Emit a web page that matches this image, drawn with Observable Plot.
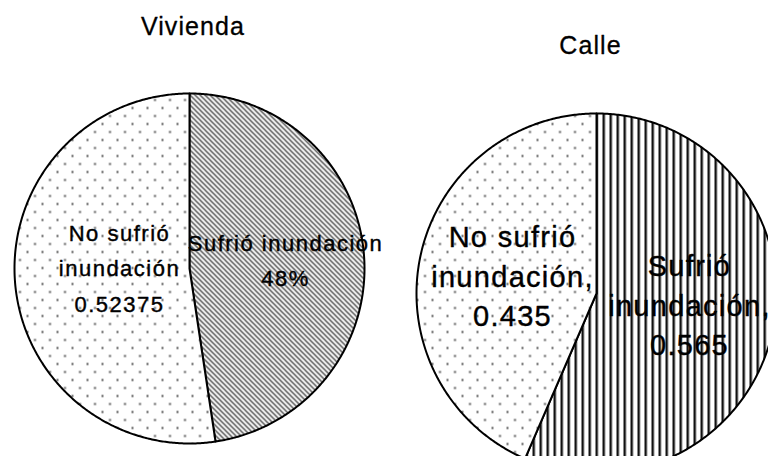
<!DOCTYPE html>
<html>
<head>
<meta charset="utf-8">
<script src="https://cdn.jsdelivr.net/npm/d3@7"></script>
<script src="https://cdn.jsdelivr.net/npm/@observablehq/plot@0.6"></script>
<style>
  html, body { margin: 0; padding: 0; background: #fff; }
  svg { display: block; }
</style>
</head>
<body>
<div id="chart"></div>
<script>
// ---- Data ----
const categories = ["Sufrió inundación", "No sufrió inundación"];
const pieTitles = ["Vivienda", "Calle"];
const viviendaValues = [0.47625, 0.52375];
const calleValues = [0.565, 0.435];
const viviendaLabels = ["Sufrió inundación\n48%", "No sufrió\ninundación\n0.52375"];
const calleLabels = ["Sufrió\ninundación,\n0.565", "No sufrió\ninundación,\n0.435"];

// ---- Layout (pixels) ----
const W = 768, H = 456;
const pies = [
  {title: pieTitles[0], values: viviendaValues, labels: viviendaLabels,
   cx: 189, cy: 268, r: 175,
   patterns: ["url(#diag)", "url(#dots)"],
   titlePos: [192.5, 26],
   labelSize: 22, lineHeight: 1.62, spacing: "1.5px",
   labelPos: [[285, 256.5], [119, 264.5]]},
  {title: pieTitles[1], values: calleValues, labels: calleLabels,
   cx: 596, cy: 293, r: 180,
   patterns: ["url(#vert)", "url(#dots)"],
   titlePos: [590, 45.5],
   labelSize: 29, lineHeight: 1.36, spacing: "1.3px",
   labelPos: [[689, 302.5], [512, 273.5]]}
];

// build slice polygons from the data (clockwise from 12 o'clock)
function slicePolygon(p, a0, a1) {
  const pts = [{x: p.cx, y: p.cy}];
  const n = Math.max(2, Math.ceil((a1 - a0) / (Math.PI / 360)));
  for (let i = 0; i <= n; i++) {
    const a = a0 + (a1 - a0) * i / n;
    pts.push({x: p.cx + p.r * Math.sin(a), y: p.cy - p.r * Math.cos(a)});
  }
  pts.push({x: p.cx, y: p.cy});
  return pts;
}

const marks = [];
pies.forEach((p) => {
  let acc = 0;
  p.values.forEach((v, i) => {
    const a0 = acc * 2 * Math.PI;
    acc += v;
    const a1 = acc * 2 * Math.PI;
    marks.push(Plot.line(slicePolygon(p, a0, a1), {
      x: "x", y: "y", fill: p.patterns[i], stroke: "#000",
      strokeWidth: 2, strokeLinejoin: "round", curve: "linear"
    }));
  });
});

const FONT = "Liberation Sans, Arial, sans-serif";

// titles
marks.push(Plot.text(pies, {
  x: (d) => d.titlePos[0], y: (d) => d.titlePos[1], text: "title",
  fontSize: 25, fontFamily: FONT, fill: "#000", stroke: "#000", strokeWidth: 0.3
}));

// labels
pies.forEach((p) => {
  const rows = p.labels.map((t, i) => ({text: t, cat: categories[i], pos: p.labelPos[i]}));
  marks.push(Plot.text(rows, {
    x: (d) => d.pos[0], y: (d) => d.pos[1], text: "text",
    fontSize: p.labelSize, lineHeight: p.lineHeight,
    fontFamily: FONT, fill: "#000", stroke: "#000", strokeWidth: 0.4
  }));
});

const svg = Plot.plot({
  width: W, height: H,
  margin: 0,
  x: {domain: [0, W], range: [0, W], axis: null},
  y: {domain: [0, H], range: [0, H], axis: null},
  style: {background: "#fff", overflow: "hidden"},
  marks
});

const s = d3.select(svg);
s.insert("defs", ":first-child").html(`
  <pattern id="dots" patternUnits="userSpaceOnUse" width="15" height="16">
    <rect width="15" height="16" fill="#fff"/>
    <rect x="3.5" y="2.5" width="2" height="2" fill="#555"/>
    <rect x="11" y="10.5" width="2" height="2" fill="#555"/>
  </pattern>
  <pattern id="diag" patternUnits="userSpaceOnUse" width="5" height="5">
    <rect width="5" height="5" fill="#fff"/>
    <path d="M-1,-1 L6,6 M-1,4 L1,6 M4,-1 L6,1" stroke="#3a3a3a" stroke-width="1.25"/>
  </pattern>
  <pattern id="vert" patternUnits="userSpaceOnUse" width="7" height="10">
    <rect width="7" height="10" fill="#fff"/>
    <rect x="0" y="0" width="2" height="10" fill="#111"/>
    <rect x="2" y="0" width="1" height="10" fill="#999"/>
  </pattern>
`);

// letter spacing (the reference text is widely tracked)
const spacings = ["1.1px", pies[0].spacing, pies[1].spacing];
s.selectAll("g[aria-label='text']").nodes().forEach((g, i) => {
  d3.select(g).style("letter-spacing", spacings[i] || "1px");
});

document.getElementById("chart").appendChild(svg);
</script>
</body>
</html>
